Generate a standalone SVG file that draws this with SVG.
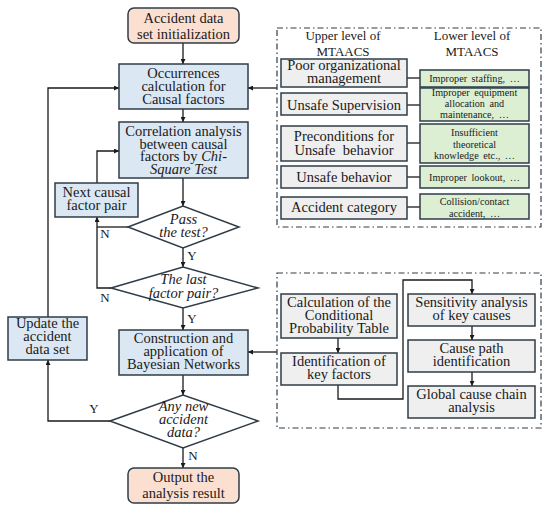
<svg xmlns="http://www.w3.org/2000/svg" width="550" height="509" viewBox="0 0 550 509" font-family="'Liberation Serif', 'DejaVu Serif', serif">
<style>
text{font-family:"Liberation Serif","DejaVu Serif",serif;fill:#1a1a1a;text-anchor:middle}
.t{font-size:14.5px}
.i{font-size:14.5px;font-style:italic}
.s{font-size:10.2px;word-spacing:2px}
.h{font-size:13px}
.lb{font-size:13px}
.peach{fill:#fbe0d1;stroke:#2e3c48;stroke-width:1.5}
.blue{fill:#dbe8f4;stroke:#2e3c48;stroke-width:1.5}
.gray{fill:#efefef;stroke:#2e3c48;stroke-width:1.5}
.green{fill:#dcefd3;stroke:#2e3c48;stroke-width:1.5}
.dia{fill:#ffffff;stroke:#2e3c48;stroke-width:1.5}
.dash{fill:none;stroke:#2e3c48;stroke-width:1.2;stroke-dasharray:6 3 1.5 3}
.ln{fill:none;stroke:#1a1a1a;stroke-width:1.3}
.ar{fill:none;stroke:#1a1a1a;stroke-width:1.3;marker-end:url(#ah)}
</style>
<defs>
<marker id="ah" viewBox="0 0 6 6" refX="6" refY="3" markerWidth="5" markerHeight="5" markerUnits="userSpaceOnUse" orient="auto">
<path d="M0,0 L6,3 L0,6 z" fill="#1a1a1a"/>
</marker>
</defs>
<rect width="550" height="509" fill="#ffffff"/>

<g id="connectors">
<path class="ar" d="M183,43 V64"/>
<path class="ar" d="M183,109 V122"/>
<path class="ar" d="M183,178 V206"/>
<path class="ar" d="M183,248 V267"/>
<path class="ar" d="M183,308 V330"/>
<path class="ar" d="M183,375 V395"/>
<path class="ar" d="M183,448 V468"/>
<path class="ln" d="M128,227 H97"/>
<path class="ar" d="M111,288 H97 V217"/>
<path class="ar" d="M97,183 V151 H119"/>
<path class="ar" d="M110,421 H48 V360"/>
<path class="ar" d="M48,317 V88 H119"/>
<path class="ar" d="M277,88 H248"/>
<path class="ar" d="M277,352 H248"/>
<path class="ln" d="M407,78 H420"/>
<path class="ln" d="M407,105 H420"/>
<path class="ln" d="M407,143 H420"/>
<path class="ln" d="M407,177 H420"/>
<path class="ln" d="M407,207 H420"/>
<path class="ar" d="M338,338 V353"/>
<path class="ar" d="M338,385 V399 H403 V280 H472 V294"/>
<path class="ar" d="M472,326 V340"/>
<path class="ar" d="M472,372 V386"/>
<text class="lb" x="105" y="238">N</text>
<text class="lb" x="105" y="302">N</text>
<text class="lb" x="192" y="260">Y</text>
<text class="lb" x="192" y="323">Y</text>
<text class="lb" x="94" y="413">Y</text>
<text class="lb" x="193" y="460">N</text>
</g>

<g id="start">
<rect class="peach" x="128" y="8" width="111" height="35" rx="6"/>
<text class="t" x="183.5" y="23">Accident data</text>
<text class="t" x="183.5" y="39">set initialization</text>
</g>
<g id="occurrences">
<rect class="blue" x="119" y="64" width="129" height="45"/>
<text class="t" x="183.5" y="78">Occurrences</text>
<text class="t" x="183.5" y="91">calculation for</text>
<text class="t" x="183.5" y="104">Causal factors</text>
</g>
<g id="correlation">
<rect class="blue" x="119" y="122" width="129" height="56"/>
<text class="t" x="183.5" y="136">Correlation analysis</text>
<text class="t" x="183.5" y="148.5">between causal</text>
<text class="t" x="183.5" y="161">factors by <tspan font-style="italic">Chi-</tspan></text>
<text class="i" x="183.5" y="173.5">Square Test</text>
</g>
<g id="next">
<rect class="blue" x="55" y="183" width="83" height="34"/>
<text class="t" x="96.5" y="197">Next causal</text>
<text class="t" x="96.5" y="210">factor pair</text>
</g>
<g id="pass">
<polygon class="dia" points="128,227 183,206 239,227 183,248"/>
<text class="i" x="183.5" y="224">Pass</text>
<text class="i" x="183.5" y="237">the test?</text>
</g>
<g id="last">
<polygon class="dia" points="111,288 183,267 258,288 183,308"/>
<text class="i" x="183.5" y="284">The last</text>
<text class="i" x="183.5" y="298">factor pair?</text>
</g>
<g id="update">
<rect class="blue" x="8" y="317" width="79" height="43"/>
<text class="t" x="47.5" y="328">Update the</text>
<text class="t" x="47.5" y="341">accident</text>
<text class="t" x="47.5" y="354">data set</text>
</g>
<g id="construction">
<rect class="blue" x="119" y="330" width="129" height="45"/>
<text class="t" x="183.5" y="343">Construction and</text>
<text class="t" x="183.5" y="356">application of</text>
<text class="t" x="183.5" y="369">Bayesian Networks</text>
</g>
<g id="anynew">
<polygon class="dia" points="110,421 183,395 258,421 183,448"/>
<text class="i" x="183.5" y="411">Any new</text>
<text class="i" x="183.5" y="424">accident</text>
<text class="i" x="183.5" y="437">data?</text>
</g>
<g id="output">
<rect class="peach" x="128" y="468" width="111" height="35" rx="6"/>
<text class="t" x="183.5" y="482">Output the</text>
<text class="t" x="183.5" y="498">analysis result</text>
</g>

<g id="mtaacs">
<rect class="dash" x="277" y="28" width="264" height="199"/>
<text class="h" x="343" y="40">Upper level of</text>
<text class="h" x="343" y="56">MTAACS</text>
<text class="h" x="472" y="40">Lower level of</text>
<text class="h" x="472" y="56">MTAACS</text>
</g>
<g id="u1">
<rect class="gray" x="281" y="59" width="126" height="28"/>
<text class="t" x="344" y="70">Poor organizational</text>
<text class="t" x="344" y="83">management</text>
</g>
<g id="l1">
<rect class="green" x="420" y="70" width="109" height="17"/>
<text class="s" x="474.5" y="82">Improper staffing, …</text>
</g>
<g id="u2">
<rect class="gray" x="281" y="93" width="126" height="22"/>
<text class="t" x="344" y="110">Unsafe Supervision</text>
</g>
<g id="l2">
<rect class="green" x="420" y="88" width="109" height="33"/>
<text class="s" x="474.5" y="96">Improper equipment</text>
<text class="s" x="474.5" y="107">allocation and</text>
<text class="s" x="474.5" y="118">maintenance, …</text>
</g>
<g id="u3">
<rect class="gray" x="281" y="126" width="126" height="35"/>
<text class="t" x="344" y="141">Preconditions for</text>
<text class="t" x="344" y="155" style="white-space:pre">Unsafe  behavior</text>
</g>
<g id="l3">
<rect class="green" x="420" y="124" width="109" height="39"/>
<text class="s" x="474.5" y="136">Insufficient</text>
<text class="s" x="474.5" y="147.5">theoretical</text>
<text class="s" x="474.5" y="159">knowledge etc., …</text>
</g>
<g id="u4">
<rect class="gray" x="281" y="166" width="126" height="22"/>
<text class="t" x="344" y="182">Unsafe behavior</text>
</g>
<g id="l4">
<rect class="green" x="420" y="166" width="109" height="22"/>
<text class="s" x="474.5" y="181">Improper lookout, …</text>
</g>
<g id="u5">
<rect class="gray" x="281" y="197" width="126" height="22"/>
<text class="t" x="344" y="212">Accident category</text>
</g>
<g id="l5">
<rect class="green" x="420" y="194" width="109" height="25"/>
<text class="s" x="474.5" y="205">Collision/contact</text>
<text class="s" x="474.5" y="217">accident, …</text>
</g>

<g id="bn">
<rect class="dash" x="277" y="273" width="264" height="155"/>
</g>
<g id="cpt">
<rect class="gray" x="281" y="294" width="116" height="44"/>
<text class="t" x="339" y="307">Calculation of the</text>
<text class="t" x="339" y="320">Conditional</text>
<text class="t" x="339" y="333">Probability Table</text>
</g>
<g id="keyfactors">
<rect class="gray" x="281" y="353" width="116" height="32"/>
<text class="t" x="339" y="366">Identification of</text>
<text class="t" x="339" y="379">key factors</text>
</g>
<g id="sensitivity">
<rect class="gray" x="408" y="294" width="127" height="32"/>
<text class="t" x="471.5" y="307">Sensitivity analysis</text>
<text class="t" x="471.5" y="320">of key causes</text>
</g>
<g id="causepath">
<rect class="gray" x="408" y="340" width="127" height="32"/>
<text class="t" x="471.5" y="353">Cause path</text>
<text class="t" x="471.5" y="366">identification</text>
</g>
<g id="global">
<rect class="gray" x="408" y="386" width="127" height="32"/>
<text class="t" x="471.5" y="399">Global cause chain</text>
<text class="t" x="471.5" y="412">analysis</text>
</g>
</svg>
